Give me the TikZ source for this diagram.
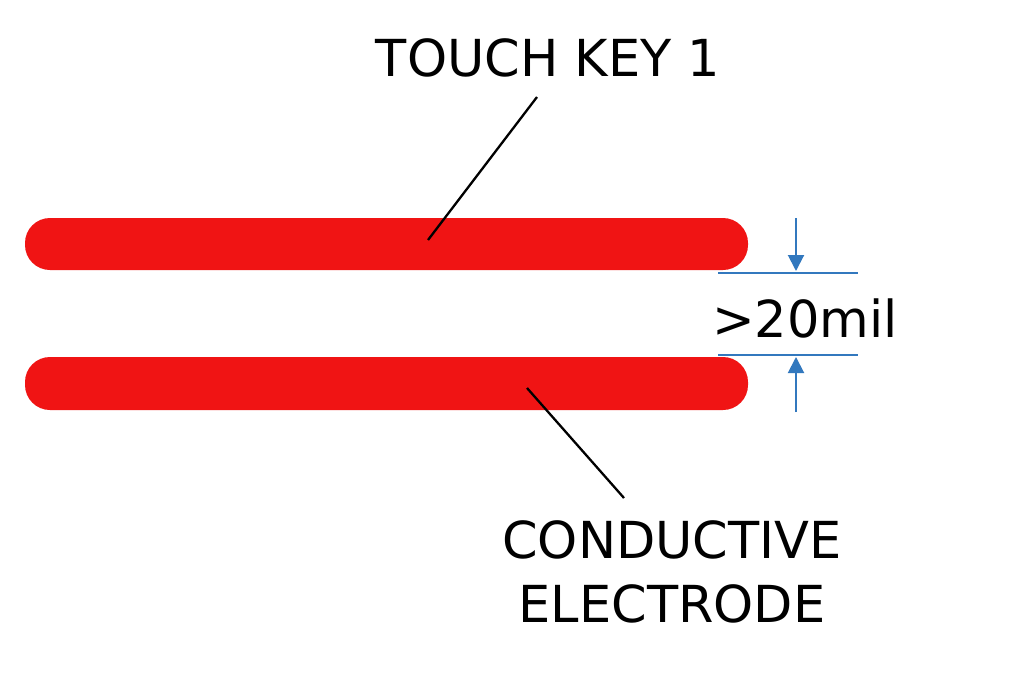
\documentclass[tikz,border=0pt]{standalone}
\usepackage{fontspec}
\setmainfont{DejaVu Sans}
\usetikzlibrary{arrows.meta,positioning}
\definecolor{padred}{RGB}{240,20,20}
\definecolor{dimblue}{RGB}{50,120,190}
\tikzset{
  pad/.style={fill=padred,rounded corners=25pt},
  leader/.style={draw=black,line width=2.3pt},
  dimline/.style={draw=dimblue,line width=2pt},
  dimarrow/.style={dimline,-{Triangle[length=16pt,width=16pt]}},
  lbl/.style={font=\fontsize{51}{60}\selectfont,inner sep=0pt}
}
\begin{document}
\begin{tikzpicture}[x=1pt,y=-1pt]
  \useasboundingbox (0,0) rectangle (1009,685);
  \fill[white] (0,0) rectangle (1009,685);
  % electrodes
  \fill[pad] (25,218) rectangle (748,270);
  \fill[pad] (25,357) rectangle (748,410);
  % labels
  \node[lbl] (key) at (548,58) {TOUCH KEY 1};
  \node[lbl,align=center] (elec) at (672,572) {CONDUCTIVE\\[4pt]ELECTRODE};
  \coordinate (keytip) at (428,240);
  \coordinate (electip) at (527,388);
  \coordinate (keyend) at (537,97);
  \coordinate (elecend) at (624,498);
  \draw[leader] (keyend) -- (keytip);
  \draw[leader] (elecend) -- (electip);
  % clearance
  \coordinate (ta) at (718,273); \coordinate (tb) at (858,273);
  \coordinate (ba) at (718,355); \coordinate (bb) at (858,355);
  \draw[dimline] (ta) -- (tb);
  \draw[dimline] (ba) -- (bb);
  \coordinate (up1) at (796,218); \coordinate (up2) at (796,271);
  \coordinate (dn1) at (796,412); \coordinate (dn2) at (796,357);
  \draw[dimarrow] (up1) -- (up2);
  \draw[dimarrow] (dn1) -- (dn2);
  \node[lbl] (gap) at (805,318) {>20mil};
\end{tikzpicture}
\end{document}
